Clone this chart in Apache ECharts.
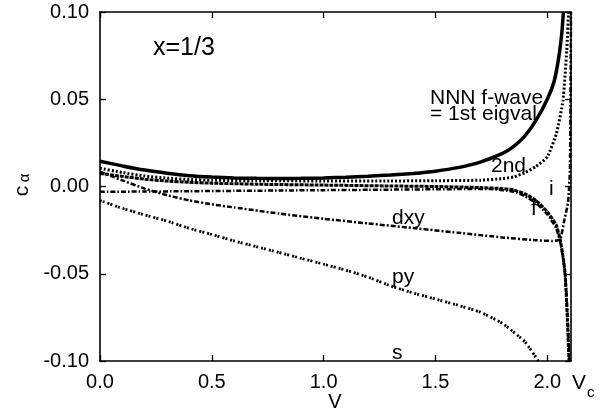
<!DOCTYPE html>
<html><head><meta charset="utf-8">
<script src="https://cdn.jsdelivr.net/npm/echarts@6/dist/echarts.min.js"></script>
<style>html,body{margin:0;padding:0;background:#fff}#c{width:611px;height:415px}</style>
</head><body><div id="c"></div>
<script>
// ---- data ----
const xTicks = [0, 0.5, 1.0, 1.5, 2.0];
const yTicks = [-0.10, -0.05, 0.00, 0.05, 0.10];
const xMax = 2.106;

const fwaveV = [0,0.1,0.2,0.3,0.4,0.5,0.6,0.7,0.8,0.9,1.0,1.1,1.2,1.3,1.4,1.5,1.6,1.7,1.8,1.85,1.9,1.95,2.0,2.03,2.05,2.065,2.072];
const fwaveC = [0.0145,0.0118,0.0094,0.0076,0.0062,0.0054,0.0049,0.0047,0.0046,0.0047,0.0049,0.0053,0.0059,0.0066,0.0075,0.0088,0.0108,0.0140,0.0190,0.0230,0.0290,0.0380,0.0500,0.0600,0.0730,0.0880,0.1000];

const secondV = [0,0.1,0.2,0.3,0.4,0.5,0.7,1.0,1.3,1.5,1.7,1.8,1.85,1.9,1.95,2.0,2.04,2.07,2.087,2.095];
const secondC = [0.0105,0.0080,0.0060,0.0048,0.0040,0.0036,0.0033,0.0032,0.0032,0.0033,0.0036,0.0045,0.0055,0.0080,0.0115,0.0170,0.0300,0.0490,0.0780,0.1000];

const fV = [0,0.1,0.2,0.3,0.4,0.5,0.7,1.0,1.3,1.5,1.7,1.8,1.85,1.9,1.95,2.0,2.04,2.057,2.07,2.08,2.09,2.097];
const fC = [0.0075,0.0058,0.0042,0.0031,0.0024,0.0019,0.0013,0.0008,0.0003,0.0000,-0.0006,-0.0012,-0.0020,-0.0042,-0.0080,-0.0145,-0.0220,-0.0300,-0.0400,-0.0500,-0.0770,-0.1000];

const iV = [0,0.2,0.4,0.6,0.8,1.0,1.2,1.4,1.6,1.75,1.85,1.9,1.95,2.0,2.04,2.06,2.075,2.085,2.093,2.099];
const iC = [-0.0030,-0.0029,-0.0027,-0.0025,-0.0023,-0.0021,-0.0019,-0.0017,-0.0015,-0.0015,-0.0030,-0.0055,-0.0095,-0.0160,-0.0240,-0.0330,-0.0450,-0.0600,-0.0800,-0.1000];

const dxyV = [0,0.05,0.1,0.2,0.3,0.4,0.5,0.6,0.8,1.0,1.2,1.4,1.6,1.8,1.95,2.02,2.057,2.075,2.093,2.101,2.104,2.106];
const dxyC = [0.0085,0.0060,0.0035,-0.0012,-0.0050,-0.0080,-0.0102,-0.0120,-0.0155,-0.0185,-0.0212,-0.0238,-0.0265,-0.0292,-0.0308,-0.0312,-0.0305,-0.0200,-0.0090,0.0090,0.0500,0.1000];

const pyV = [0,0.1,0.2,0.3,0.4,0.5,0.6,0.7,0.8,0.9,1.0,1.1,1.2,1.3,1.4,1.5,1.6,1.7,1.8,1.9,1.96];
const pyC = [-0.0080,-0.0125,-0.0163,-0.0198,-0.0240,-0.0275,-0.0312,-0.0345,-0.0378,-0.0412,-0.0445,-0.0480,-0.0520,-0.0570,-0.0610,-0.0645,-0.0680,-0.0720,-0.0785,-0.0890,-0.1000];

// ---- chart ----
const FONT = 'Liberation Sans';
const zip = (a, b) => a.map((v, k) => [v, b[k]]);
const mk = (name, V, C, width, type) => ({
  name, type: 'line', data: zip(V, C), showSymbol: false, symbol: 'none',
  smooth: 0.15, clip: true, xAxisIndex: 0, yAxisIndex: 0,
  lineStyle: { color: '#000', width, type, cap: 'butt' }, z: 3
});

const chart = echarts.init(document.getElementById('c'), null, { renderer: 'canvas' });
const axisBase = {
  axisLine: { show: true, onZero: false, lineStyle: { color: '#000', width: 1.6 } },
  axisTick: { show: true, inside: true, length: 6, lineStyle: { color: '#000', width: 1.3 } },
  splitLine: { show: false }
};
const txt = (text, x, y, size, extra) => Object.assign({
  type: 'text', x, y, silent: true, z: 10,
  style: { text, fill: '#000', fontFamily: FONT, fontSize: size, align: 'left', verticalAlign: 'middle', textAlign: 'left', textVerticalAlign: 'middle' }
}, extra || {});
const ctxt = (text, x, y, size, rot) => ({
  type: 'text', x, y, silent: true, z: 10, rotation: rot || 0,
  style: { text, fill: '#000', fontFamily: FONT, fontSize: size, align: 'center', verticalAlign: 'middle', textAlign: 'center', textVerticalAlign: 'middle' }
});

chart.setOption({
  animation: false,
  backgroundColor: '#fff',
  grid: { left: 100, right: 40, top: 12, bottom: 54 },
  xAxis: [
    Object.assign({}, axisBase, { type: 'value', min: 0, max: xMax, position: 'bottom',
      axisTick: Object.assign({}, axisBase.axisTick, { customValues: xTicks }),
      axisLabel: { customValues: xTicks, color: '#000', fontFamily: FONT, fontSize: 20, margin: 11, formatter: v => v.toFixed(1) } }),
    Object.assign({}, axisBase, { type: 'value', min: 0, max: xMax, position: 'top',
      axisTick: Object.assign({}, axisBase.axisTick, { customValues: xTicks }),
      axisLabel: { show: false } })
  ],
  yAxis: [
    Object.assign({}, axisBase, { type: 'value', min: -0.1, max: 0.1, interval: 0.05, position: 'left',
      axisLabel: { color: '#000', fontFamily: FONT, fontSize: 20, margin: 11, formatter: v => v.toFixed(2) } }),
    Object.assign({}, axisBase, { type: 'value', min: -0.1, max: 0.1, interval: 0.05, position: 'right',
      axisLabel: { show: false } })
  ],
  series: [
    mk('NNN f-wave', fwaveV, fwaveC, 3.5, 'solid'),
    mk('2nd', secondV, secondC, 3, [2, 2]),
    mk('f', fV, fC, 3, [4, 1]),
    mk('i', iV, iC, 2.5, [5, 2, 1.5, 2]),
    mk('dxy', dxyV, dxyC, 2.5, [5, 2, 2, 2]),
    mk('py', pyV, pyC, 2.8, [2, 1, 2, 3])
  ],
  graphic: [
    txt('x=1/3', 153, 48, 25),
    txt('NNN f-wave', 430, 98, 21),
    txt('= 1st eigval', 430, 114, 21),
    txt('2nd', 491, 166, 21),
    txt('i', 549, 189, 21),
    txt('f', 531, 209, 21),
    txt('dxy', 392, 218, 21),
    txt('py', 392, 277, 21),
    txt('s', 392, 353, 21),
    ctxt('V', 335, 402, 20),
    txt('V', 572, 383, 21),
    txt('c', 587, 393, 15),
    ctxt('c', 22, 191, 21, Math.PI / 2),
    ctxt('α', 25, 178, 15, Math.PI / 2)
  ]
});
</script></body></html>
